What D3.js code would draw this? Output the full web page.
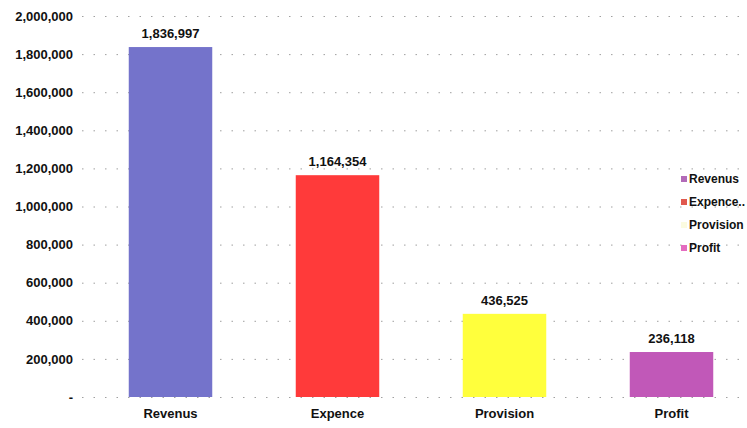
<!DOCTYPE html>
<html>
<head>
<meta charset="utf-8">
<script src="https://cdn.jsdelivr.net/npm/d3@7/dist/d3.min.js"></script>
<style>
  html, body { margin: 0; padding: 0; background: #fff; }
  svg { display: block; }
  text { font-family: "Liberation Sans", Arial, sans-serif; fill: #111; }
</style>
</head>
<body>
<svg id="chart" width="747" height="428"></svg>
<script>
// Financial summary figures
const categories = ["Revenus", "Expence", "Provision", "Profit"];
const values = [1836997, 1164354, 436525, 236118];
const barColors = ["#7473cb", "#ff3a3a", "#ffff3c", "#c158b8"];
const legendColors = ["#b26ab8", "#e0584e", "#fbfbe0", "#e46cc0"];
const legendLabels = ["Revenus", "Expence..", "Provision", "Profit"];
const yTicks = [0, 200000, 400000, 600000, 800000, 1000000, 1200000, 1400000, 1600000, 1800000, 2000000];

const svg = d3.select("#chart");

const y = d3.scaleLinear().domain([0, 2000000]).range([397, 16]);
const x = d3.scaleBand().domain(categories).range([87, 755]).paddingInner(0.5).paddingOuter(0.25);

const fmt = d3.format(",");
const fontSize = 13;

// Gridlines (sparse dotted)
svg.append("g")
  .selectAll("line")
  .data(yTicks)
  .join("line")
  .attr("x1", 82)
  .attr("x2", 745)
  .attr("y1", d => y(d) + 0.5)
  .attr("y2", d => y(d) + 0.5)
  .attr("stroke", "#444")
  .attr("stroke-width", 1)
  .attr("stroke-dasharray", "1.5,10")
  .attr("opacity", 0.5);

// Y axis labels
const yAxis = d3.axisLeft(y)
  .tickValues(yTicks)
  .tickSize(0)
  .tickPadding(0)
  .tickFormat(d => d === 0 ? "-" : fmt(d));
const yg = svg.append("g").attr("transform", "translate(73,0)").call(yAxis);
yg.select(".domain").remove();
yg.selectAll("text")
  .attr("font-size", fontSize)
  .attr("font-weight", "bold")
  .attr("fill", "#111")
  .style("font-family", "'Liberation Sans', Arial, sans-serif");

// Bars
svg.append("g")
  .selectAll("rect")
  .data(values)
  .join("rect")
  .attr("x", (d, i) => x(categories[i]))
  .attr("y", d => y(d))
  .attr("width", x.bandwidth())
  .attr("height", d => y(0) - y(d))
  .attr("fill", (d, i) => barColors[i]);

// Value labels above bars
svg.append("g")
  .selectAll("text")
  .data(values)
  .join("text")
  .attr("x", (d, i) => x(categories[i]) + x.bandwidth() / 2)
  .attr("y", d => y(d) - 9)
  .attr("text-anchor", "middle")
  .attr("font-size", fontSize)
  .attr("font-weight", "bold")
  .text(d => fmt(d));

// Category axis labels
const xAxis = d3.axisBottom(x).tickSize(0).tickPadding(0);
const xg = svg.append("g").attr("transform", "translate(0,409)").call(xAxis);
xg.select(".domain").remove();
xg.selectAll("text")
  .attr("font-size", fontSize)
  .attr("font-weight", "bold")
  .attr("fill", "#111")
  .style("font-family", "'Liberation Sans', Arial, sans-serif");

// Legend
const legend = svg.append("g").attr("transform", "translate(681,179)");
const rows = legend.selectAll("g")
  .data(legendLabels)
  .join("g")
  .attr("transform", (d, i) => `translate(0,${i * 23})`);
rows.append("rect")
  .attr("x", 0).attr("y", -3)
  .attr("width", 6).attr("height", 6)
  .attr("fill", (d, i) => legendColors[i]);
rows.append("text")
  .attr("x", 8)
  .attr("dy", "0.35em")
  .attr("font-size", 12)
  .attr("font-weight", "bold")
  .text(d => d);
</script>
</body>
</html>
